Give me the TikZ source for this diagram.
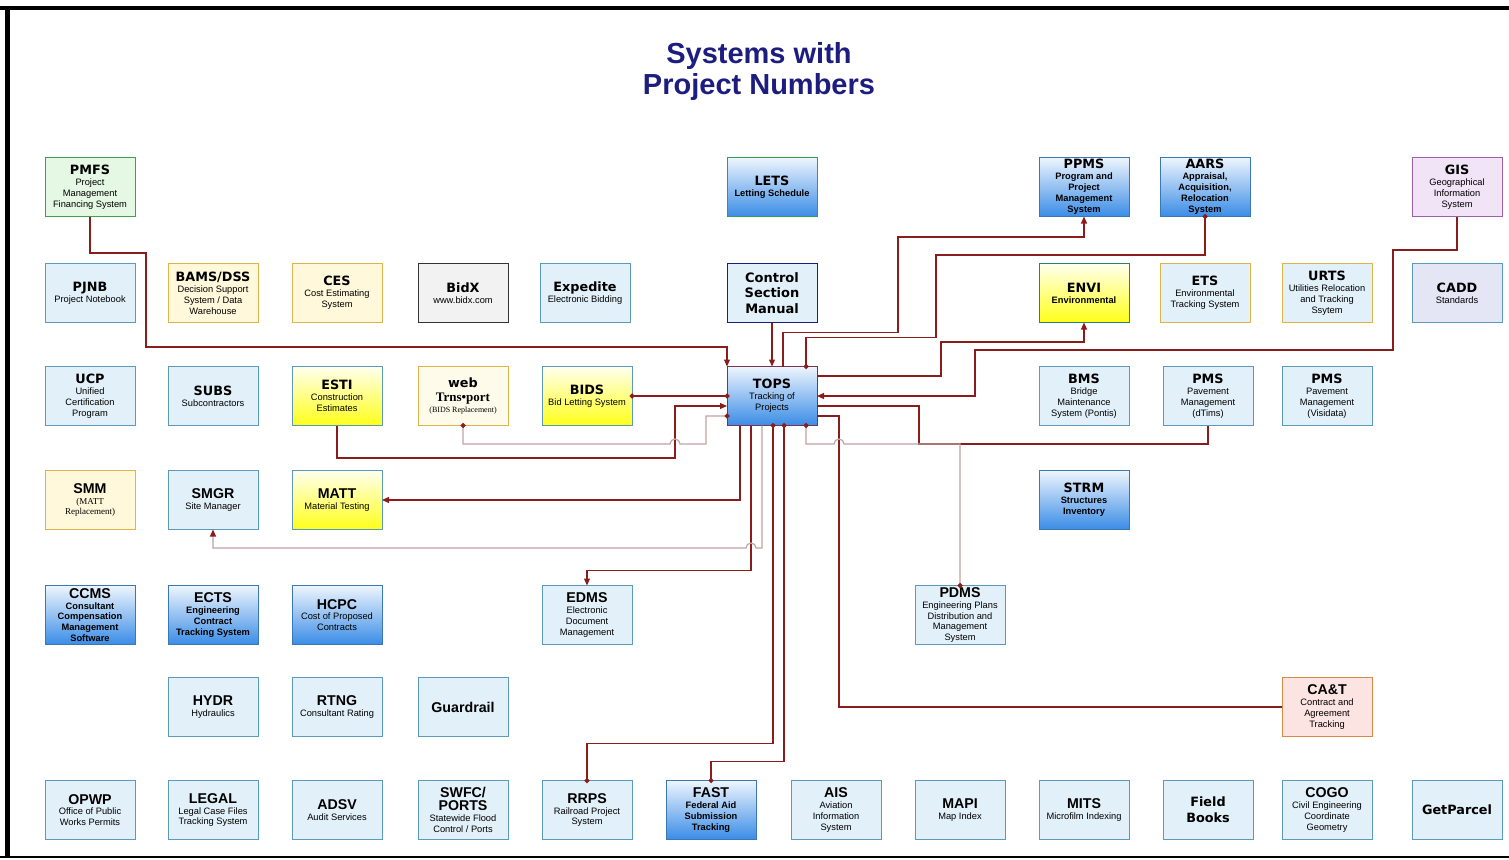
\documentclass[tikz,border=0pt]{standalone}
\usepackage{fontspec}
\setmainfont{Liberation Sans}
\newfontfamily\verd{DejaVu Sans}
\newfontfamily\serf{Liberation Serif}
\usetikzlibrary{arrows.meta}

\definecolor{linkred}{HTML}{8B1C1C}
\definecolor{linkgrey}{HTML}{BFA3A3}
\definecolor{ltblue}{HTML}{E2F0F9}
\definecolor{edgeblue}{HTML}{5B9BB9}
\definecolor{paleyel}{HTML}{FFF8DA}
\definecolor{creamfill}{HTML}{FFFBEA}
\definecolor{edgegold}{HTML}{DDB34A}
\definecolor{gradtop}{HTML}{EEF5FD}
\definecolor{gradblue}{HTML}{3A8CE6}
\definecolor{gradedge}{HTML}{3A78B4}
\definecolor{yeltop}{HTML}{FFFFEE}
\definecolor{yelbot}{HTML}{FFFF1A}
\definecolor{navy}{HTML}{1D1D7F}
\definecolor{pmfsfill}{HTML}{E4F8E4}
\definecolor{pmfsedge}{HTML}{40A050}
\definecolor{letsedge}{HTML}{2EA055}
\definecolor{topsedge}{HTML}{7B3355}
\definecolor{envedge}{HTML}{2F7F6A}
\definecolor{gisfill}{HTML}{F0E4F6}
\definecolor{gisedge}{HTML}{A060A8}
\definecolor{caddfill}{HTML}{E4E6F6}
\definecolor{catfill}{HTML}{FCE4E2}
\definecolor{catedge}{HTML}{D88848}
\definecolor{bidxfill}{HTML}{F2F2F2}

\newcommand\hdV[1]{{\verd\bfseries\fontsize{12.8}{14}\selectfont #1}}
\newcommand\hdA[1]{{\normalfont\bfseries\fontsize{14.2}{15}\selectfont #1}}
\newcommand\subA{\fontsize{9.3}{10.9}\selectfont}

\tikzset{
  sysbox/.style={rectangle, minimum width=90pt, minimum height=59pt, inner sep=1pt,
    outer sep=0pt, align=center, line width=1pt, font=\subA},
  plainbox/.style={sysbox, fill=ltblue, draw=edgeblue},
  goldbox/.style={sysbox, fill=ltblue, draw=edgegold},
  yelbox/.style={sysbox, fill=paleyel, draw=edgegold},
  bluebox/.style={sysbox, draw=gradedge, top color=gradtop, bottom color=gradblue},
  boldblue/.style={bluebox, font=\subA\bfseries},
  yelgrad/.style={sysbox, draw=edgeblue, top color=yeltop, bottom color=yelbot},
  link/.style={draw=linkred, line width=1.2pt},
  glink/.style={draw=linkgrey, line width=1.2pt},
  dd/.style={{Circle[length=5pt,color=linkred]}-{Circle[length=5pt,color=linkred]},
    shorten <=-2.5pt, shorten >=-2.5pt},
  >={Triangle[length=7pt,width=6pt,color=linkred]}
}

\begin{document}
\begin{tikzpicture}[x=1pt,y=-1pt]
\useasboundingbox (0,0) rectangle (1509,859);
% frame
\draw[line width=4.5pt] (0,8) -- (1509,8);
\draw[line width=5pt] (7,8) -- (7,857);
\draw[line width=2.5pt] (0,857) -- (1509,857);
\node[font=\bfseries\fontsize{29}{31}\selectfont, text=navy, align=center] (title) at (759,72) {Systems with\\Project Numbers};

% row 1
\node[sysbox, fill=pmfsfill, draw=pmfsedge] (pmfs) at (90,187) {\hdV{PMFS}\\Project\\Management\\Financing System};
\node[boldblue, draw=letsedge] (lets) at (772,187) {\hdV{LETS}\\Letting Schedule};
\node[boldblue] (ppms) at (1084,187) {\hdV{PPMS}\\Program and\\Project\\Management\\System};
\node[boldblue] (aars) at (1205,187) {\hdV{AARS}\\Appraisal,\\Acquisition,\\Relocation\\System};
\node[sysbox, fill=gisfill, draw=gisedge] (gis) at (1457,187) {\hdV{GIS}\\Geographical\\Information\\System};

% row 2
\node[plainbox] (pjnb) at (90,293) {\hdV{PJNB}\\Project Notebook};
\node[yelbox] (bams) at (213,293) {\hdV{BAMS/DSS}\\Decision Support\\System / Data\\Warehouse};
\node[yelbox] (ces) at (337,293) {\hdV{CES}\\Cost Estimating\\System};
\node[sysbox, fill=bidxfill, draw=black!80] (bidx) at (463,293) {\hdV{BidX}\\www.bidx.com};
\node[plainbox] (expd) at (585,293) {\hdV{Expedite}\\Electronic Bidding};
\node[plainbox, draw=navy, font=\verd\bfseries\fontsize{13}{15.5}\selectfont] (csm) at (772,293) {Control\\Section\\Manual};
\node[yelgrad, draw=envedge, font=\subA\bfseries] (envi) at (1084,293) {\hdV{ENVI}\\Environmental};
\node[goldbox] (ets) at (1205,293) {\hdV{ETS}\\Environmental\\Tracking System};
\node[goldbox] (urts) at (1327,293) {\hdV{URTS}\\Utilities Relocation\\and Tracking\\Ssytem};
\node[sysbox, fill=caddfill, draw=edgeblue] (cadd) at (1457,293) {\hdV{CADD}\\Standards};

% row 3
\node[plainbox] (ucp) at (90,396) {\hdV{UCP}\\Unified\\Certification\\Program};
\node[plainbox] (subs) at (213,396) {\hdV{SUBS}\\Subcontractors};
\node[yelgrad] (esti) at (337,396) {\hdV{ESTI}\\Construction\\Estimates};
\node[sysbox, fill=creamfill, draw=edgegold, font=\serf\fontsize{8}{10}\selectfont] (web) at (463,396) {\hdV{web}\\[4pt]{\bfseries\fontsize{13}{14}\selectfont Trns•port}\\[1pt](BIDS Replacement)};
\node[yelgrad] (bids) at (587,396) {\hdV{BIDS}\\Bid Letting System};
\node[bluebox, draw=topsedge] (tops) at (772,396) {\hdV{TOPS}\\Tracking of\\Projects};
\node[plainbox] (bms) at (1084,396) {\hdV{BMS}\\Bridge\\Maintenance\\System (Pontis)};
\node[plainbox] (pmsd) at (1208,396) {\hdV{PMS}\\Pavement\\Management\\(dTims)};
\node[plainbox] (pmsv) at (1327,396) {\hdV{PMS}\\Pavement\\Management\\(Visidata)};

% row 4
\node[yelbox, font=\serf\fontsize{9}{10.5}\selectfont] (smm) at (90,500) {\hdA{SMM}\\(MATT\\Replacement)};
\node[plainbox] (smgr) at (213,500) {\hdA{SMGR}\\Site Manager};
\node[yelgrad] (matt) at (337,500) {\hdA{MATT}\\Material Testing};
\node[boldblue] (strm) at (1084,500) {\hdV{STRM}\\Structures\\Inventory};

% row 5
\node[boldblue] (ccms) at (90,615) {\hdA{CCMS}\\Consultant\\Compensation\\Management\\Software};
\node[boldblue] (ects) at (213,615) {\hdA{ECTS}\\Engineering\\Contract\\Tracking System};
\node[bluebox] (hcpc) at (337,615) {\hdA{HCPC}\\Cost of Proposed\\Contracts};
\node[plainbox] (edms) at (587,615) {\hdA{EDMS}\\Electronic\\Document\\Management};
\node[plainbox] (pdms) at (960,615) {\hdA{PDMS}\\Engineering Plans\\Distribution and\\Management\\System};

% row 6
\node[plainbox] (hydr) at (213,707) {\hdA{HYDR}\\Hydraulics};
\node[plainbox] (rtng) at (337,707) {\hdA{RTNG}\\Consultant Rating};
\node[plainbox] (guard) at (463,707) {\hdA{Guardrail}};
\node[sysbox, fill=catfill, draw=catedge] (cat) at (1327,707) {\hdA{CA\&T}\\Contract and\\Agreement\\Tracking};

% row 7
\node[plainbox] (opwp) at (90,810) {\hdA{OPWP}\\Office of Public\\Works Permits};
\node[plainbox] (legal) at (213,810) {\hdA{LEGAL}\\Legal Case Files\\Tracking System};
\node[plainbox] (adsv) at (337,810) {\hdA{ADSV}\\Audit Services};
\node[plainbox] (swfc) at (463,810) {\hdA{SWFC/}\\[2pt]\hdA{PORTS}\\Statewide Flood\\Control / Ports};
\node[plainbox] (rrps) at (587,810) {\hdA{RRPS}\\Railroad Project\\System};
\node[boldblue] (fast) at (711,810) {\hdA{FAST}\\Federal Aid\\Submission\\Tracking};
\node[plainbox] (ais) at (836,810) {\hdA{AIS}\\Aviation\\Information\\System};
\node[plainbox] (mapi) at (960,810) {\hdA{MAPI}\\Map Index};
\node[plainbox] (mits) at (1084,810) {\hdA{MITS}\\Microfilm Indexing};
\node[plainbox, font=\verd\bfseries\fontsize{12.8}{16}\selectfont] (field) at (1208,810) {Field\\Books};
\node[plainbox] (cogo) at (1327,810) {\hdA{COGO}\\Civil Engineering\\Coordinate\\Geometry};
\node[plainbox] (getp) at (1457,810) {\hdV{GetParcel}};

% links into TOPS
\draw[link,->] (pmfs.south) |- (146,253) |- (727,347) -- (tops.north west);
\draw[link,->] (csm) -- (tops);
\draw[link,dd] (bids) -- (tops);
\draw[link,->] (esti.south) |- (675,458) |- ([yshift=-10pt]tops.west);
\draw[glink,dd] (web.south) |- (670,444) arc[start angle=180,end angle=0,radius=5pt] -- (706,444) |- ([yshift=-20pt]tops.west);
\draw[link,->] (gis.south) |- (1393,250) |- (975,350) |- (tops.east);

% links out of TOPS
\draw[link,->] ([xshift=11pt]tops.north) -- ++(0,-34) -| (898,237) -| (ppms.south);
\draw[link,dd] ([xshift=34pt]tops.north) -- ++(0,-29) -| (936,255) -| (aars.south);
\draw[link,->] ([yshift=20pt]tops.east) -| (941,342) -| (envi.south);
\draw[link] ([yshift=-10pt]tops.east) -| (919,444) -| (pmsd.south);
\draw[link] ([yshift=-20pt]tops.east) -- (839,416) |- (cat.west);
\draw[glink,dd] ([xshift=34pt]tops.south) |- (834,444) arc[start angle=180,end angle=0,radius=5pt] -| (pdms.north);
\draw[link,->] ([xshift=-32pt]tops.south) |- (matt.east);
\draw[link,->] ([xshift=-21pt]tops.south) -- ++(0,145) -| (edms.north);
\draw[glink,->] ([xshift=-10pt]tops.south) |- (756,548) arc[start angle=0,end angle=180,radius=5pt] -| (smgr.south);
\draw[link,dd] ([xshift=1pt]tops.south) -- ++(0,318) -| (rrps.north);
\draw[link,dd] ([xshift=12pt]tops.south) -- ++(0,336) -| (fast.north);
\end{tikzpicture}
\end{document}
